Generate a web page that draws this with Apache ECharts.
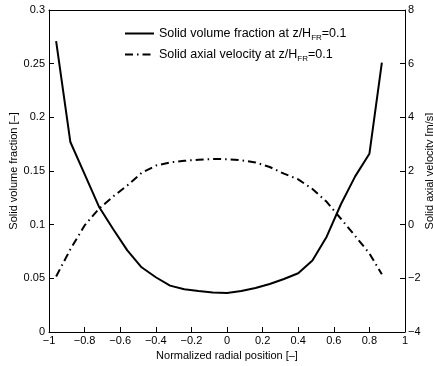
<!DOCTYPE html>
<html>
<head>
<meta charset="utf-8">
<script src="https://cdn.jsdelivr.net/npm/echarts@6/dist/echarts.min.js"></script>
<style>
  html, body { margin: 0; padding: 0; background: #fff; }
  #chart { width: 433px; height: 366px; }
</style>
</head>
<body>
<div id="chart"></div>
<script>
// normalized radial position
const radialPos = [-0.96, -0.88, -0.80, -0.72, -0.64, -0.56, -0.48, -0.40, -0.32, -0.24, -0.16, -0.08,
  0, 0.08, 0.16, 0.24, 0.32, 0.40, 0.48, 0.56, 0.64, 0.72, 0.80, 0.87];
// solid volume fraction [-]
const volFraction = [0.271, 0.177, 0.147, 0.117, 0.096, 0.076, 0.0603, 0.051, 0.0432, 0.0398, 0.0382, 0.0368,
  0.0363, 0.0382, 0.041, 0.0447, 0.0494, 0.0547, 0.0666, 0.0888, 0.119, 0.145, 0.166, 0.251];
// solid axial velocity [m/s]
const axialVel = [-1.93, -0.92, -0.03, 0.59, 1.05, 1.46, 1.93, 2.20, 2.32, 2.38, 2.42, 2.45,
  2.44, 2.40, 2.32, 2.15, 1.90, 1.69, 1.33, 0.85, 0.22, -0.42, -1.07, -1.85];

const seriesNames = ['Solid volume fraction at z/H_FR=0.1', 'Solid axial velocity at z/H_FR=0.1'];

const font = 'Liberation Sans, Arial, Helvetica, sans-serif';
const minus = v => String(v).replace('-', '\u2212');

const chart = echarts.init(document.getElementById('chart'));

chart.setOption({
  animation: false,
  textStyle: { fontFamily: font },
  grid: { left: 49, right: 28, top: 10, bottom: 34, outerBoundsMode: 'none', containLabel: false },
  legend: {
    orient: 'vertical',
    left: 119,
    top: 22,
    itemWidth: 29,
    itemHeight: 10,
    itemGap: 6,
    itemStyle: { opacity: 0 },
    data: seriesNames,
    formatter: name => {
      const parts = name.split('_FR');
      return '{a|' + parts[0] + '}{s|FR}{a|' + parts[1] + '}';
    },
    textStyle: {
      rich: {
        a: { fontFamily: font, fontSize: 12.5, color: '#000' },
        s: { fontFamily: font, fontSize: 8, color: '#000', padding: [9, 0, 0, 0] },
      },
    },
  },
  xAxis: [
    {
      type: 'value',
      min: -1,
      max: 1,
      interval: 0.2,
      name: 'Normalized radial position [\u2013]',
      nameLocation: 'middle',
      nameGap: 16,
      nameTextStyle: { fontFamily: font, fontSize: 11, color: '#000' },
      axisLine: { onZero: false, lineStyle: { color: '#000', width: 1 } },
      axisTick: { inside: true, length: 5, lineStyle: { color: '#000' } },
      axisLabel: { fontFamily: font, fontSize: 11, color: '#000', margin: 3, formatter: minus },
      splitLine: { show: false },
    },
    {
      type: 'value',
      position: 'top',
      min: -1,
      max: 1,
      axisLine: { show: true, onZero: false, lineStyle: { color: '#000', width: 1 } },
      axisTick: { show: false },
      axisLabel: { show: false },
      splitLine: { show: false },
    },
  ],
  yAxis: [
    {
      type: 'value',
      min: 0,
      max: 0.3,
      interval: 0.05,
      name: 'Solid volume fraction [\u2013]',
      nameLocation: 'middle',
      nameGap: 30,
      nameMoveOverlap: false,
      nameTextStyle: { fontFamily: font, fontSize: 11, color: '#000' },
      axisLine: { show: true, onZero: false, lineStyle: { color: '#000', width: 1 } },
      axisTick: { show: true, inside: true, length: 5, lineStyle: { color: '#000' } },
      axisLabel: { fontFamily: font, fontSize: 11, color: '#000', margin: 4 },
      splitLine: { show: false },
    },
    {
      type: 'value',
      position: 'right',
      min: -4,
      max: 8,
      interval: 2,
      name: 'Solid axial velocity [m/s]',
      nameLocation: 'middle',
      nameGap: 19,
      nameMoveOverlap: false,
      nameTextStyle: { fontFamily: font, fontSize: 11, color: '#000' },
      axisLine: { show: true, onZero: false, lineStyle: { color: '#000', width: 1 } },
      axisTick: { show: true, inside: true, length: 5, lineStyle: { color: '#000' } },
      axisLabel: { fontFamily: font, fontSize: 11, color: '#000', margin: 3, formatter: minus },
      splitLine: { show: false },
    },
  ],
  series: [
    {
      name: seriesNames[0],
      type: 'line',
      yAxisIndex: 0,
      symbol: 'none',
      data: radialPos.map((x, i) => [x, volFraction[i]]),
      lineStyle: { color: '#000', width: 2 },
      itemStyle: { color: '#000' },
    },
    {
      name: seriesNames[1],
      type: 'line',
      yAxisIndex: 1,
      symbol: 'none',
      data: radialPos.map((x, i) => [x, axialVel[i]]),
      lineStyle: { color: '#000', width: 2, type: [8, 4, 1.5, 4] },
      itemStyle: { color: '#000' },
    },
  ],
});
</script>
</body>
</html>
